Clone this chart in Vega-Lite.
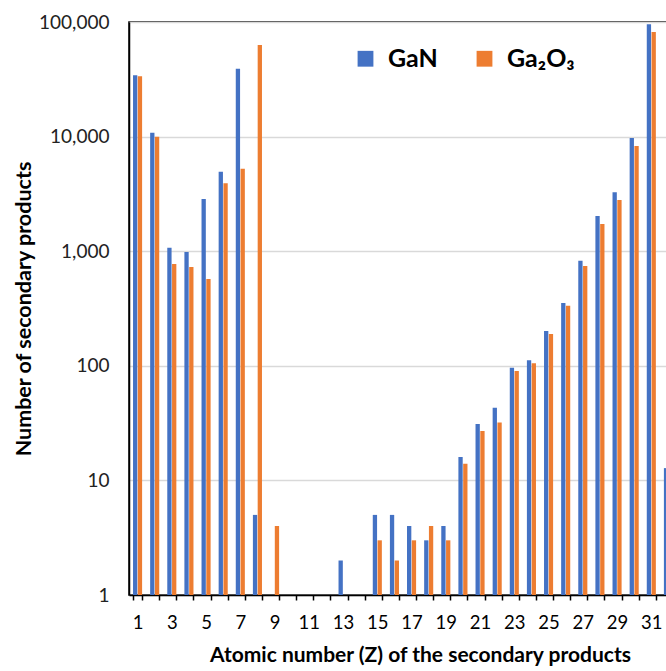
{
  "$schema": "https://vega.github.io/schema/vega-lite/v6.json",
  "autosize": {"type": "none"},
  "width": 548,
  "height": 573,
  "padding": {"left": 129, "top": 22, "right": -11, "bottom": 76},
  "background": "white",
  "config": {
    "view": {"stroke": "black", "strokeWidth": 1.5},
    "axis": {"domainColor": "black", "domainWidth": 1.5}
  },
  "data": {
    "values": [
      {"Z": 1, "material": "GaN", "count": 34300},
      {"Z": 1, "material": "Ga₂O₃", "count": 33600},
      {"Z": 2, "material": "GaN", "count": 10800},
      {"Z": 2, "material": "Ga₂O₃", "count": 9980},
      {"Z": 3, "material": "GaN", "count": 1073},
      {"Z": 3, "material": "Ga₂O₃", "count": 773},
      {"Z": 4, "material": "GaN", "count": 984},
      {"Z": 4, "material": "Ga₂O₃", "count": 728},
      {"Z": 5, "material": "GaN", "count": 2850},
      {"Z": 5, "material": "Ga₂O₃", "count": 572},
      {"Z": 6, "material": "GaN", "count": 4940},
      {"Z": 6, "material": "Ga₂O₃", "count": 3910},
      {"Z": 7, "material": "GaN", "count": 39100},
      {"Z": 7, "material": "Ga₂O₃", "count": 5250},
      {"Z": 8, "material": "GaN", "count": 5},
      {"Z": 8, "material": "Ga₂O₃", "count": 63000},
      {"Z": 9, "material": "Ga₂O₃", "count": 4},
      {"Z": 13, "material": "GaN", "count": 2},
      {"Z": 15, "material": "GaN", "count": 5},
      {"Z": 15, "material": "Ga₂O₃", "count": 3},
      {"Z": 16, "material": "GaN", "count": 5},
      {"Z": 16, "material": "Ga₂O₃", "count": 2},
      {"Z": 17, "material": "GaN", "count": 4},
      {"Z": 17, "material": "Ga₂O₃", "count": 3},
      {"Z": 18, "material": "GaN", "count": 3},
      {"Z": 18, "material": "Ga₂O₃", "count": 4},
      {"Z": 19, "material": "GaN", "count": 4},
      {"Z": 19, "material": "Ga₂O₃", "count": 3},
      {"Z": 20, "material": "GaN", "count": 16},
      {"Z": 20, "material": "Ga₂O₃", "count": 14},
      {"Z": 21, "material": "GaN", "count": 31},
      {"Z": 21, "material": "Ga₂O₃", "count": 27},
      {"Z": 22, "material": "GaN", "count": 43},
      {"Z": 22, "material": "Ga₂O₃", "count": 32},
      {"Z": 23, "material": "GaN", "count": 96},
      {"Z": 23, "material": "Ga₂O₃", "count": 90},
      {"Z": 24, "material": "GaN", "count": 112},
      {"Z": 24, "material": "Ga₂O₃", "count": 105},
      {"Z": 25, "material": "GaN", "count": 201},
      {"Z": 25, "material": "Ga₂O₃", "count": 189},
      {"Z": 26, "material": "GaN", "count": 353},
      {"Z": 26, "material": "Ga₂O₃", "count": 335},
      {"Z": 27, "material": "GaN", "count": 826},
      {"Z": 27, "material": "Ga₂O₃", "count": 743},
      {"Z": 28, "material": "GaN", "count": 2030},
      {"Z": 28, "material": "Ga₂O₃", "count": 1727},
      {"Z": 29, "material": "GaN", "count": 3270},
      {"Z": 29, "material": "Ga₂O₃", "count": 2800},
      {"Z": 30, "material": "GaN", "count": 9720},
      {"Z": 30, "material": "Ga₂O₃", "count": 8280},
      {"Z": 31, "material": "GaN", "count": 95500},
      {"Z": 31, "material": "Ga₂O₃", "count": 81800},
      {"Z": 32, "material": "GaN", "count": 12.8}
    ]
  },
  "mark": {"type": "bar"},
  "encoding": {
    "x": {
      "field": "Z",
      "type": "ordinal",
      "scale": {
        "domain": [1,2,3,4,5,6,7,8,9,10,11,12,13,14,15,16,17,18,19,20,21,22,23,24,25,26,27,28,29,30,31,32],
        "paddingInner": 0.47,
        "paddingOuter": 0.235
      },
      "axis": {
        "title": "Atomic number (Z) of the secondary products",
        "titleFont": "Lato",
        "titleFontWeight": "bold",
        "titleFontSize": 21,
        "titleColor": "black",
        "titleX": 291,
        "titleAnchor": "middle",
        "titlePadding": 13,
        "labelAngle": 0,
        "labelFont": "Lato",
        "labelFontSize": 18.5,
        "labelColor": "black",
        "labelPadding": 13,
        "labelExpr": "datum.value % 2 == 1 ? datum.label : ''",
        "tickBand": "extent",
        "tickColor": "black",
        "tickSize": 5,
        "tickWidth": 1.5,
        "grid": false
      }
    },
    "xOffset": {
      "field": "material",
      "type": "nominal",
      "scale": {"domain": ["GaN", "Ga₂O₃"], "paddingInner": 0.1}
    },
    "y": {
      "field": "count",
      "type": "quantitative",
      "stack": null,
      "scale": {"type": "log", "domain": [1, 100000], "nice": false},
      "axis": {
        "title": "Number of secondary products",
        "titleFont": "Lato",
        "titleFontWeight": "bold",
        "titleFontSize": 21.5,
        "titleColor": "black",
        "titlePadding": 3,
        "values": [1, 10, 100, 1000, 10000, 100000],
        "format": ",",
        "labelFont": "Lato",
        "labelFontSize": 19,
        "labelColor": "#222222",
        "labelPadding": 20,
        "ticks": false,
        "grid": true,
        "gridColor": "#d9d9d9",
        "gridWidth": 1.5
      }
    },
    "color": {
      "field": "material",
      "type": "nominal",
      "scale": {"domain": ["GaN", "Ga₂O₃"], "range": ["#4472C4", "#ED7D31"]},
      "legend": {
        "title": null,
        "orient": "none",
        "legendX": 224,
        "legendY": 24,
        "direction": "horizontal",
        "symbolType": "square",
        "symbolSize": 250,
        "symbolStrokeWidth": 0,
        "labelFont": "Lato",
        "labelFontWeight": "bold",
        "labelFontSize": 25,
        "labelColor": "black",
        "labelOffset": 10,
        "columnPadding": 34
      }
    }
  }
}
